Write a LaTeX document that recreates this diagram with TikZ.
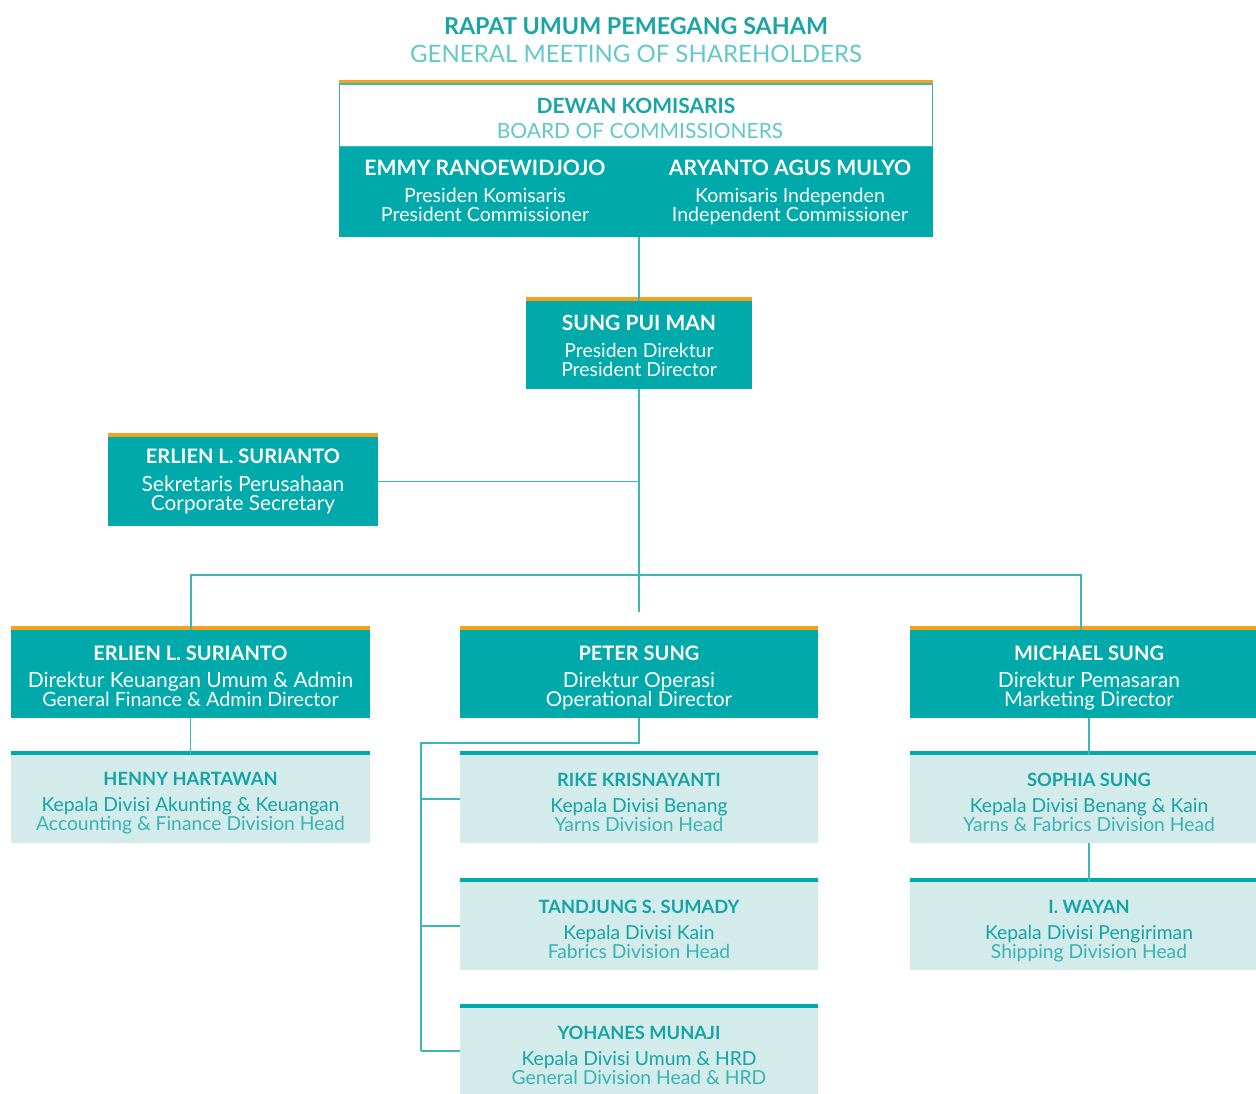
\documentclass[tikz,border=0pt]{standalone}
\usepackage{fontspec}
\setmainfont{Lato}
\definecolor{tealbox}{HTML}{00A9AA}
\definecolor{orangebar}{HTML}{F5A11C}
\definecolor{lightbox}{HTML}{D4EBEB}
\definecolor{conn}{HTML}{3AB7B8}
\definecolor{titleA}{HTML}{19A5A6}
\definecolor{titleB}{HTML}{62C8C8}
\definecolor{headtxt}{HTML}{14A4A5}
\definecolor{headeng}{HTML}{38B3B4}
\newcommand\fs[2]{{\fontsize{#1}{19}\selectfont #2}}
\newcommand\fb[2]{{\fontsize{#1}{19}\selectfont\bfseries #2}}
\newcommand\obox[6][]{\node[#1, minimum width={#5-#3}, minimum height={#6-#4}] (#2) at ({(#3+#5)/2},{(#4+#6)/2}) {};}
\tikzset{
  dirbox/.style={fill=tealbox, inner sep=0pt},
  headbox/.style={fill=lightbox, inner sep=0pt},
  dirtxt/.style={text=white, inner sep=0pt, align=center, anchor=base, font=\fontsize{19}{19}\selectfont},
  headtxt/.style={text=headtxt, inner sep=0pt, align=center, anchor=base, font=\fontsize{19}{19}\selectfont},
  obar/.style={fill=orangebar},
  tbar/.style={fill=tealbox},
  link/.style={draw=conn, line width=1.5pt},
  ttl/.style={inner sep=0pt, anchor=base}
}
\begin{document}
\begin{tikzpicture}[x=1pt,y=-1pt]
\useasboundingbox (0,0) rectangle (1256,1093);
% title
\node[ttl, text=titleA] (t1) at (636,34) {\fb{23.3}{RAPAT UMUM PEMEGANG SAHAM}};
\node[ttl, text=titleB] (t2) at (636,62) {\fs{24}{GENERAL MEETING OF SHAREHOLDERS}};
% board
\fill[obar] (339,80) rectangle (933,84);
\obox[draw=conn, line width=1.2pt, fill=white, inner sep=0pt]{boardtop}{339.6}{84}{932.4}{147}
\node[ttl, text=titleA] (bt1) at (636,113) {\fb{21}{DEWAN KOMISARIS}};
\node[ttl, text=titleB] (bt2) at (640,138) {\fs{21}{BOARD OF COMMISSIONERS}};
\obox[dirbox]{boardbot}{339}{147}{933}{237}
\node[dirtxt] (emmy) at (485,221) {\fb{21.2}{EMMY RANOEWIDJOJO}\\[8pt]\fs{19.6}{Presiden Komisaris}\\\fs{19.6}{President Commissioner}};
\node[dirtxt] (aryanto) at (790,221) {\fb{21.2}{ARYANTO AGUS MULYO}\\[8pt]\fs{19.6}{Komisaris Independen}\\\fs{19.6}{Independent Commissioner}};
% president director
\fill[obar] (526,297) rectangle (752,301);
\obox[dirbox]{sung}{526}{301}{752}{389}
\node[dirtxt] (sungt) at (639,376) {\fb{21}{SUNG PUI MAN}\\[8pt]\fs{19.4}{Presiden Direktur}\\\fs{19.4}{President Director}};
% secretary
\fill[obar] (108,433) rectangle (378,437);
\obox[dirbox]{sec}{108}{437}{378}{526}
\node[dirtxt] (sect) at (243,510) {\fb{20}{ERLIEN L. SURIANTO}\\[9pt]\fs{21}{Sekretaris Perusahaan}\\\fs{20.8}{Corporate Secretary}};
% directors
\fill[obar] (11,626) rectangle (370,630);
\obox[dirbox]{fin}{11}{630}{370}{718}
\node[dirtxt] (fint) at (190.5,706) {\fb{20}{ERLIEN L. SURIANTO}\\[8pt]\fs{21}{Direktur Keuangan Umum \& Admin}\\\fs{19.7}{General Finance \& Admin Director}};
\fill[obar] (460,626) rectangle (818,630);
\obox[dirbox]{peter}{460}{630}{818}{718}
\node[dirtxt] (petert) at (639,706) {\fb{20}{PETER SUNG}\\[8pt]\fs{20.8}{Direktur Operasi}\\\fs{20.5}{Operational Director}};
\fill[obar] (910,626) rectangle (1268,630);
\obox[dirbox]{michael}{910}{630}{1268}{718}
\node[dirtxt] (michaelt) at (1089,706) {\fb{20}{MICHAEL SUNG}\\[8pt]\fs{21}{Direktur Pemasaran}\\\fs{20.3}{Marketing Director}};
% heads
\fill[tbar] (11,751) rectangle (370,755);
\obox[headbox]{henny}{11}{755}{370}{843}
\node[headtxt] (hennyt) at (190.5,830) {\fb{18.3}{HENNY HARTAWAN}\\[7pt]\fs{19.3}{Kepala Divisi Akunting \& Keuangan}\\\fs{19.3}{\color{headeng}Accounting \& Finance Division Head}};
\fill[tbar] (460,751) rectangle (818,755);
\obox[headbox]{rike}{460}{755}{818}{843}
\node[headtxt] (riket) at (639,831) {\fb{18.3}{RIKE KRISNAYANTI}\\[7pt]\fs{19.3}{Kepala Divisi Benang}\\\fs{19.3}{\color{headeng}Yarns Division Head}};
\fill[tbar] (460,878) rectangle (818,882);
\obox[headbox]{tand}{460}{882}{818}{970}
\node[headtxt] (tandt) at (639,958) {\fb{18.3}{TANDJUNG S. SUMADY}\\[7pt]\fs{19.3}{Kepala Divisi Kain}\\\fs{19.3}{\color{headeng}Fabrics Division Head}};
\fill[tbar] (460,1004) rectangle (818,1008);
\obox[headbox]{yoh}{460}{1008}{818}{1096}
\node[headtxt] (yoht) at (639,1084) {\fb{18.3}{YOHANES MUNAJI}\\[7pt]\fs{19.3}{Kepala Divisi Umum \& HRD}\\\fs{19.3}{\color{headeng}General Division Head \& HRD}};
\fill[tbar] (910,751) rectangle (1268,755);
\obox[headbox]{sophia}{910}{755}{1268}{843}
\node[headtxt] (sophiat) at (1089,831) {\fb{18.3}{SOPHIA SUNG}\\[7pt]\fs{19.3}{Kepala Divisi Benang \& Kain}\\\fs{19.3}{\color{headeng}Yarns \& Fabrics Division Head}};
\fill[tbar] (910,878) rectangle (1268,882);
\obox[headbox]{wayan}{910}{882}{1268}{970}
\node[headtxt] (wayant) at (1089,958) {\fb{18.3}{I. WAYAN}\\[7pt]\fs{19.3}{Kepala Divisi Pengiriman}\\\fs{19.3}{\color{headeng}Shipping Division Head}};
% coordinates
\coordinate (trunkend) at (639,612);
\coordinate (busL) at (191,575);
\coordinate (busR) at (1081,575);
\coordinate (opsL) at (421,743);
\coordinate (opsB) at (421,1051);
% connectors
\draw[link] (boardbot.south -| sung.north) -- (sung.north);
\draw[link] (sung.south) -- (trunkend);
\draw[link] (sec.east) -- (sec.east -| sung.south);
\draw[link] (busL |- fin.north) -- (busL) -- (busR) -- (busR |- michael.north);
\draw[link] (fin.south) -- (henny.north);
\draw[link] (peter.south) |- (opsL) -- (opsB);
\draw[link] (opsL |- rike.west) -- (rike.west);
\draw[link] (opsL |- tand.west) -- (tand.west);
\draw[link] (opsB) -- (opsB -| yoh.west);
\draw[link] (michael.south -| sophia.north) -- (sophia.north);
\draw[link] (sophia.south) -- (wayan.north);
\end{tikzpicture}
\end{document}
